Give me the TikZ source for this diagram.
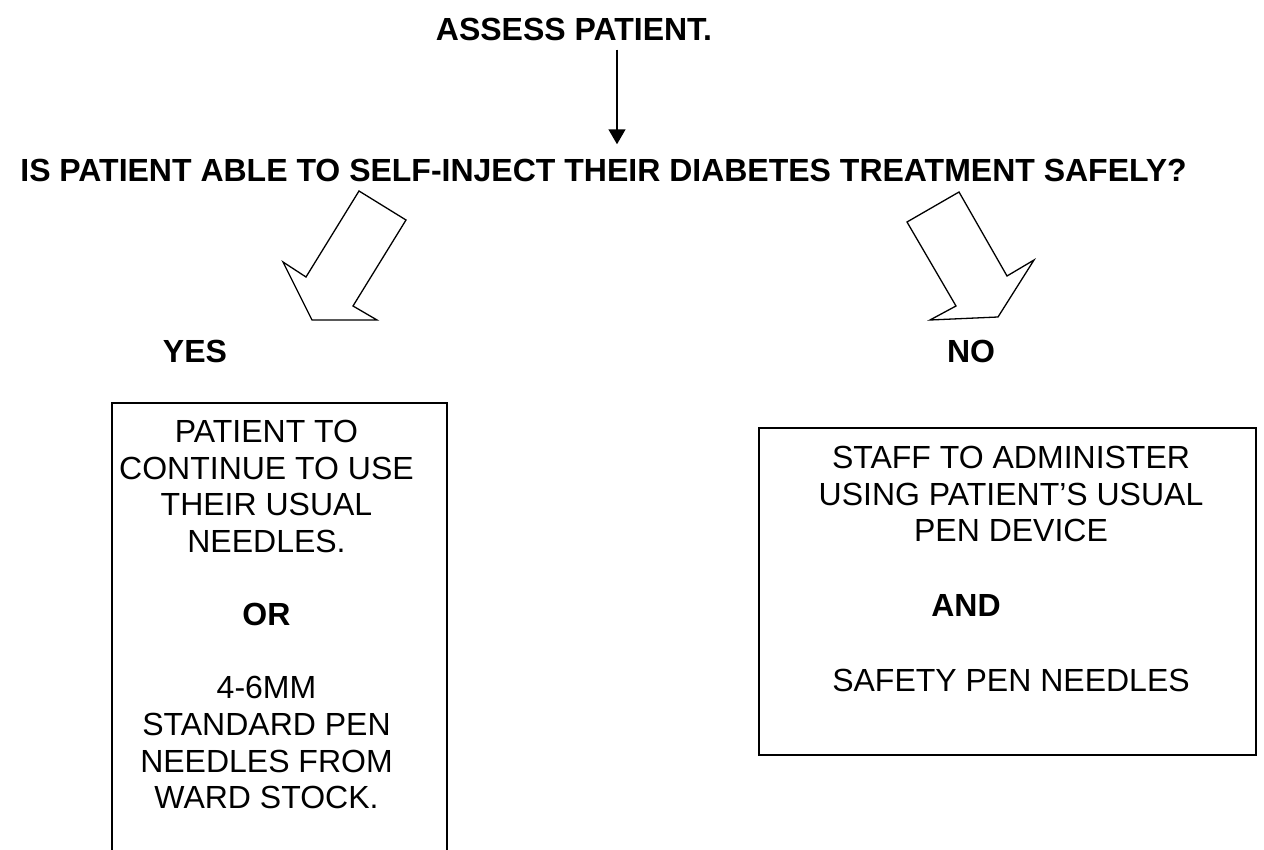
\documentclass[tikz,border=0pt]{standalone}
\usepackage{fontspec}
\setmainfont{Liberation Sans}
\usetikzlibrary{arrows.meta}

\begin{document}
\begin{tikzpicture}[
        x=0.5pt, y=-0.5pt,
        >={Triangle[length=7.5pt,width=8.5pt]},
        title/.style={font=\fontsize{16}{18.3}\selectfont\bfseries, inner sep=0pt, anchor=base},
        boxtext/.style={font=\fontsize{16}{18.3}\selectfont, inner sep=0pt, align=center, anchor=north},
        frame/.style={line width=0.9pt},
        bigarrow/.style={line width=0.65pt, line join=miter}
    ]
    \useasboundingbox (0,0) rectangle (1264,850);

    % 标题与问题
    \node[title] (assess) at (574,41) {ASSESS PATIENT.};
    \node[title] (question) at (603.5,182) {IS PATIENT ABLE TO SELF-INJECT THEIR DIABETES TREATMENT SAFELY?};
    \coordinate (ax) at (617,0);
    \draw[->, line width=0.75pt] ([yshift=-4pt]assess.south -| ax) -- ([yshift=7.5pt]question.north -| ax);

    % 两个空心箭头
    \draw[bigarrow] (359,191) -- (406,220) -- (353,306) -- (377,320) -- (312,320) -- (283,262) -- (306,277) -- cycle;
    \draw[bigarrow] (907,222) -- (959,192) -- (1007,276) -- (1034,260) -- (998,317) -- (930,320) -- (956,306) -- cycle;

    % 是 / 否
    \node[title] (yes) at (195,363) {YES};
    \node[title] (no) at (971,363) {NO};

    % 左框 (下边被裁掉)
    \draw[frame] (112,850) -- (112,403) -- (447,403) -- (447,850);
    \node[boxtext] (yestext) at (266.5,420) {PATIENT TO\\CONTINUE TO USE\\THEIR USUAL\\NEEDLES.\\[18.3pt]\textbf{OR}\\[18.3pt]4-6MM\\STANDARD PEN\\NEEDLES FROM\\WARD STOCK.};

    % 右框
    \draw[frame] (759,428) rectangle (1256,755);
    \node[boxtext] (notext) at (1011,446) {STAFF TO ADMINISTER\\USING PATIENT’S USUAL\\PEN DEVICE\\[19pt]\textbf{AND}\rule{45pt}{0pt}\\[19pt]SAFETY PEN NEEDLES};
\end{tikzpicture}
\end{document}
